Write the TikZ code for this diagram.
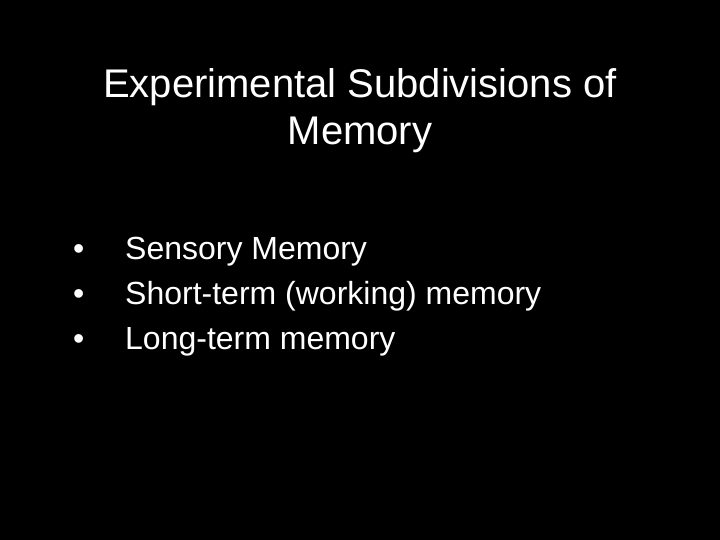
\documentclass[tikz,border=0pt]{standalone}
\usepackage{fontspec}
\setmainfont{Liberation Sans}
\begin{document}
\begin{tikzpicture}[x=1pt,y=-1pt,
  title/.style={text=white,font=\fontsize{40}{42}\selectfont,anchor=base,inner sep=0pt},
  item/.style={text=white,font=\fontsize{32}{34}\selectfont,anchor=base west,inner sep=0pt}]
\fill[black] (0,0) rectangle (720,540);
\useasboundingbox (0,0) rectangle (720,540);
\node[title] (t1) at (360,98) {Experimental Subdivisions of};
\node[title] (t2) at (360,145) {Memory};
\node[item] (d1) at (73,259) {•};
\node[item] (b1) at (125,259) {Sensory Memory};
\node[item] (d2) at (73,304) {•};
\node[item] (b2) at (125,304) {Short-term (working) memory};
\node[item] (d3) at (73,349) {•};
\node[item] (b3) at (125,349) {Long-term memory};
\end{tikzpicture}
\end{document}
